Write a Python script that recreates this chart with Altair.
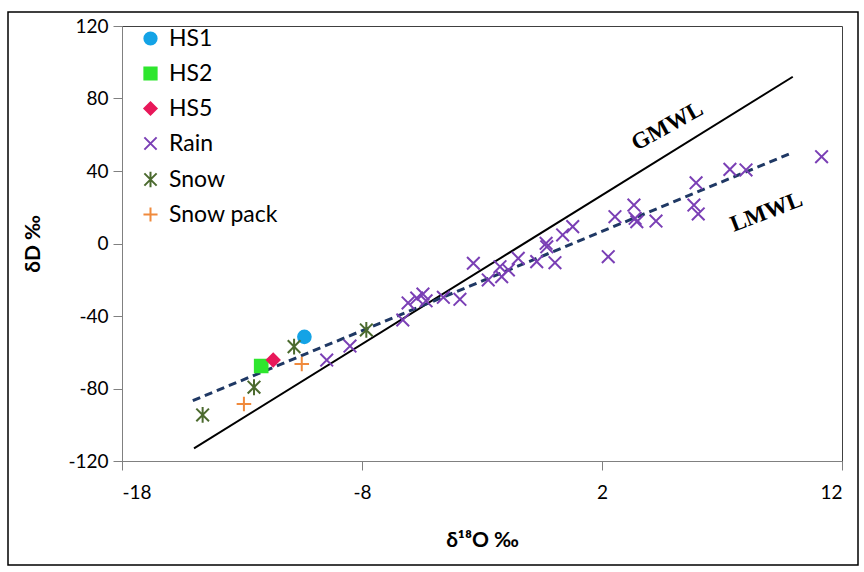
import altair as alt
import pandas as pd

# ---- data ----
hs1_x = [-10.4]
hs1_y = [-51.5]
hs2_x = [-12.2]
hs2_y = [-67.6]
hs5_x = [-11.7]
hs5_y = [-64.3]

rain_x = [-9.47, -8.5, -6.3, -6.08, -5.72, -5.46, -5.33, -4.61, -3.92, -3.36,
          -2.74, -2.25, -2.18, -1.9, -1.49, -0.72, -0.33, -0.3, 0.04, 0.36,
          0.78, 2.26, 2.54, 3.33, 3.38, 3.45, 4.25, 5.92, 5.83, 6.01,
          7.33, 8.0, 11.15]
rain_y = [-64.3, -56.6, -42.2, -32.8, -30.1, -27.9, -31.6, -29.7, -30.8, -10.9,
          -20.1, -12.8, -18.3, -14.6, -8.2, -10.0, 0.1, -1.8, -10.6, 4.7,
          9.3, -7.3, 14.8, 21.2, 13.9, 12.0, 12.4, 33.5, 21.2, 16.3,
          40.9, 40.6, 47.9]

snow_x = [-14.64, -12.5, -10.83, -7.82]
snow_y = [-94.6, -79.3, -56.9, -47.7]

snowpack_x = [-12.92, -10.51]
snowpack_y = [-88.6, -66.5]

gmwl_x = [-15.0, 9.95]
gmwl_y = [-113.0, 92.0]
lmwl_x = [-15.05, 9.8]
lmwl_y = [-86.7, 49.4]

label_text = ["GMWL", "LMWL"]
label_x = [4.72, 8.85]
label_y = [64.8, 17.4]
label_angle = [331, 339]

categories = ["HS1", "HS2", "HS5", "Rain", "Snow", "Snow pack"]
cat_colors = ["#14A3E6", "#2EE62E", "#E8185A", "#7A3FB5", "#4B6A2E", "#F08A3C"]
X_PATH = "M-1,-1L1,1M-1,1L1,-1"
STAR_PATH = "M-1,-1L1,1M-1,1L1,-1M0,-1.25L0,1.25"
PLUS_PATH = "M-1.15,0L1.15,0M0,-1.15L0,1.15"
cat_shapes = ["circle", "square", "diamond", X_PATH, STAR_PATH, PLUS_PATH]

x_ticks = [-18, -8, 2, 12]
y_ticks = [-120, -80, -40, 0, 40, 80, 120]

# ---- tables ----
rows = []
for name, xs, ys in [("HS1", hs1_x, hs1_y), ("HS2", hs2_x, hs2_y), ("HS5", hs5_x, hs5_y),
                     ("Rain", rain_x, rain_y), ("Snow", snow_x, snow_y),
                     ("Snow pack", snowpack_x, snowpack_y)]:
    for a, b in zip(xs, ys):
        rows.append({"o18": a, "d": b, "type": name})
pts = pd.DataFrame(rows)

gm = pd.DataFrame({"o18": gmwl_x, "d": gmwl_y})
lm = pd.DataFrame({"o18": lmwl_x, "d": lmwl_y})
labels = pd.DataFrame({"t": label_text, "o18": label_x, "d": label_y, "a": label_angle})

xscale = alt.Scale(domain=[-18, 12], nice=False, zero=False)
yscale = alt.Scale(domain=[-120, 120], nice=False, zero=False)

xenc = alt.X("o18:Q", scale=xscale,
             axis=alt.Axis(title="δ¹⁸O ‰", values=x_ticks, labelExpr="datum.value + ''"))
yenc = alt.Y("d:Q", scale=yscale,
             axis=alt.Axis(title="δD ‰", values=y_ticks, labelExpr="datum.value + ''"))

frame = alt.Chart(pd.DataFrame({"k": [0]})).mark_rect(
    fill=None, stroke="#000000", strokeWidth=1.5
).encode(x=alt.value(-114), x2=alt.value(736), y=alt.value(-14), y2=alt.value(539))

gm_line = alt.Chart(gm).mark_line(color="#000000", strokeWidth=2).encode(x=xenc, y=yenc)
lm_line = alt.Chart(lm).mark_line(color="#1F3864", strokeWidth=3, strokeDash=[8, 5]).encode(
    x=alt.X("o18:Q", scale=xscale), y=alt.Y("d:Q", scale=yscale))

lab_gm = alt.Chart(labels.iloc[[0]]).mark_text(
    font="Liberation Serif", fontWeight="bold", fontSize=23, angle=label_angle[0], color="#000000"
).encode(x=alt.X("o18:Q", scale=xscale), y=alt.Y("d:Q", scale=yscale), text="t:N")
lab_lm = alt.Chart(labels.iloc[[1]]).mark_text(
    font="Liberation Serif", fontWeight="bold", fontSize=23, angle=label_angle[1], color="#000000"
).encode(x=alt.X("o18:Q", scale=xscale), y=alt.Y("d:Q", scale=yscale), text="t:N")

leg = alt.Legend(title=None, orient="none", legendX=17, legendY=1, padding=0,
                 labelFont="Lato", labelFontSize=23, labelColor="#000000",
                 symbolSize=150, symbolStrokeWidth=2, rowPadding=11, labelOffset=7)

points = alt.Chart(pts).mark_point(size=160, strokeWidth=2, opacity=1).encode(
    x=alt.X("o18:Q", scale=xscale),
    y=alt.Y("d:Q", scale=yscale),
    shape=alt.Shape("type:N", scale=alt.Scale(domain=categories, range=cat_shapes), legend=leg),
    fill=alt.Fill("type:N", scale=alt.Scale(domain=categories, range=cat_colors), legend=leg),
    stroke=alt.Stroke("type:N", scale=alt.Scale(domain=categories, range=cat_colors), legend=leg),
)

chart = alt.layer(frame, gm_line, lm_line, points, lab_gm, lab_lm).properties(
    width=720, height=435,
    padding={"left": 7, "top": 11, "right": 0, "bottom": 0},
).configure_view(
    stroke="#404040", strokeWidth=1
).configure_axis(
    grid=False, domainColor="#808080", tickColor="#808080", tickSize=9,
    labelFont="Lato", labelFontSize=19, labelColor="#000000",
    titleFont="Lato", titleFontSize=21, titleFontWeight="bold", titleColor="#000000",
).configure_axisX(
    labelPadding=13, titlePadding=27
).configure_axisY(
    labelPadding=5, titlePadding=24
)

chart.save("out.html", embed_options={"renderer": "svg", "actions": False})
